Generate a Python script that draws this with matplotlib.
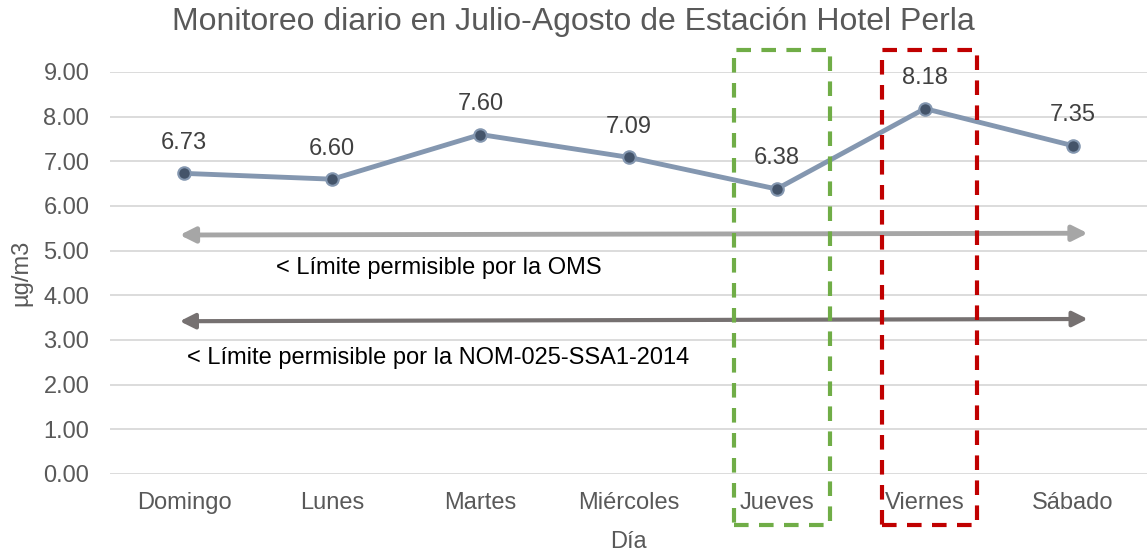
import matplotlib
matplotlib.use("Agg")
import matplotlib.pyplot as plt

# data
dias = ["Domingo", "Lunes", "Martes", "Miércoles", "Jueves", "Viernes", "Sábado"]
valores = [6.73, 6.60, 7.60, 7.09, 6.38, 8.18, 7.35]
yticks = [0, 1, 2, 3, 4, 5, 6, 7, 8, 9]

# limit arrows: (x_start, y_start, x_end, y_end) in data units
lim_oms = (-0.03, 5.35, 6.10, 5.39)
lim_nom = (-0.03, 3.42, 6.10, 3.47)
txt_oms = "< Límite permisible por la OMS"
txt_nom = "< Límite permisible por la NOM-025-SSA1-2014"

# highlight boxes (x0, x1, y0, y1) in data units, drawn outside the axes
box_jueves = (3.71, 4.36, -1.14, 9.49)
box_viernes = (4.71, 5.35, -1.14, 9.49)

plt.rcParams["font.family"] = ["Liberation Sans", "DejaVu Sans"]
gris = "#595959"
fs = 17

fig = plt.figure(figsize=(11.47, 5.55), dpi=100)
ax = fig.add_axes([0.096, 0.146, 0.904, 0.7243])

x = list(range(len(dias)))
ax.plot(x, valores, "-", color="#8497B0", lw=3.5, zorder=4)
ax.plot(x, valores, "o", ms=9, mfc="#44546A", mec="#8497B0", mew=1.5, zorder=5)
for xi, v in zip(x, valores):
    ax.annotate(f"{v:.2f}", (xi, v), xytext=(0, 22), textcoords="offset points",
                ha="center", va="center", fontsize=fs, color="#404040")

ax.set_xlim(-0.5, len(dias) - 0.5)
ax.set_ylim(0, 9)
ax.set_yticks(yticks)
ax.set_yticklabels([f"{t:.2f}" for t in yticks])
ax.set_xticks(x)
ax.set_xticklabels(dias)
ax.tick_params(length=0, labelsize=fs, colors=gris)
ax.tick_params(axis="y", pad=15)
ax.tick_params(axis="x", pad=13)
ax.grid(axis="y", color="#D9D9D9", lw=1.3)
ax.set_axisbelow(True)
for s in ax.spines.values():
    s.set_visible(False)

ax.set_xlabel("Día", fontsize=fs, color=gris, labelpad=12)
ax.set_ylabel("µg/m3", fontsize=fs, color=gris, labelpad=8)
fig.text(0.5, 1 - 22 / 555, "Monitoreo diario en Julio-Agosto de Estación Hotel Perla",
         ha="center", va="center", fontsize=23, color=gris)

for (x0, y0, x1, y1), col, lw in [(lim_oms, "#A6A6A6", 3.5), (lim_nom, "#767171", 3.0)]:
    ax.annotate("", xy=(x1, y1), xytext=(x0, y0),
                arrowprops=dict(arrowstyle="<|-|>,head_length=0.9,head_width=0.45",
                                color=col, lw=lw, shrinkA=0, shrinkB=0), zorder=3)

ax.text(1.72, 4.61, txt_oms, ha="center", va="center", fontsize=fs, color="black")
ax.text(0.02, 2.60, txt_nom, ha="left", va="center", fontsize=fs, color="black")

for (bx0, bx1, by0, by1), col in [(box_jueves, "#70AD47"), (box_viernes, "#C00000")]:
    ax.plot([bx0, bx1, bx1, bx0, bx0], [by0, by0, by1, by1, by0], color=col,
            lw=3, ls=(0, (3.5, 2.5)), clip_on=False, zorder=6)

fig.savefig("out.png", dpi=100)
